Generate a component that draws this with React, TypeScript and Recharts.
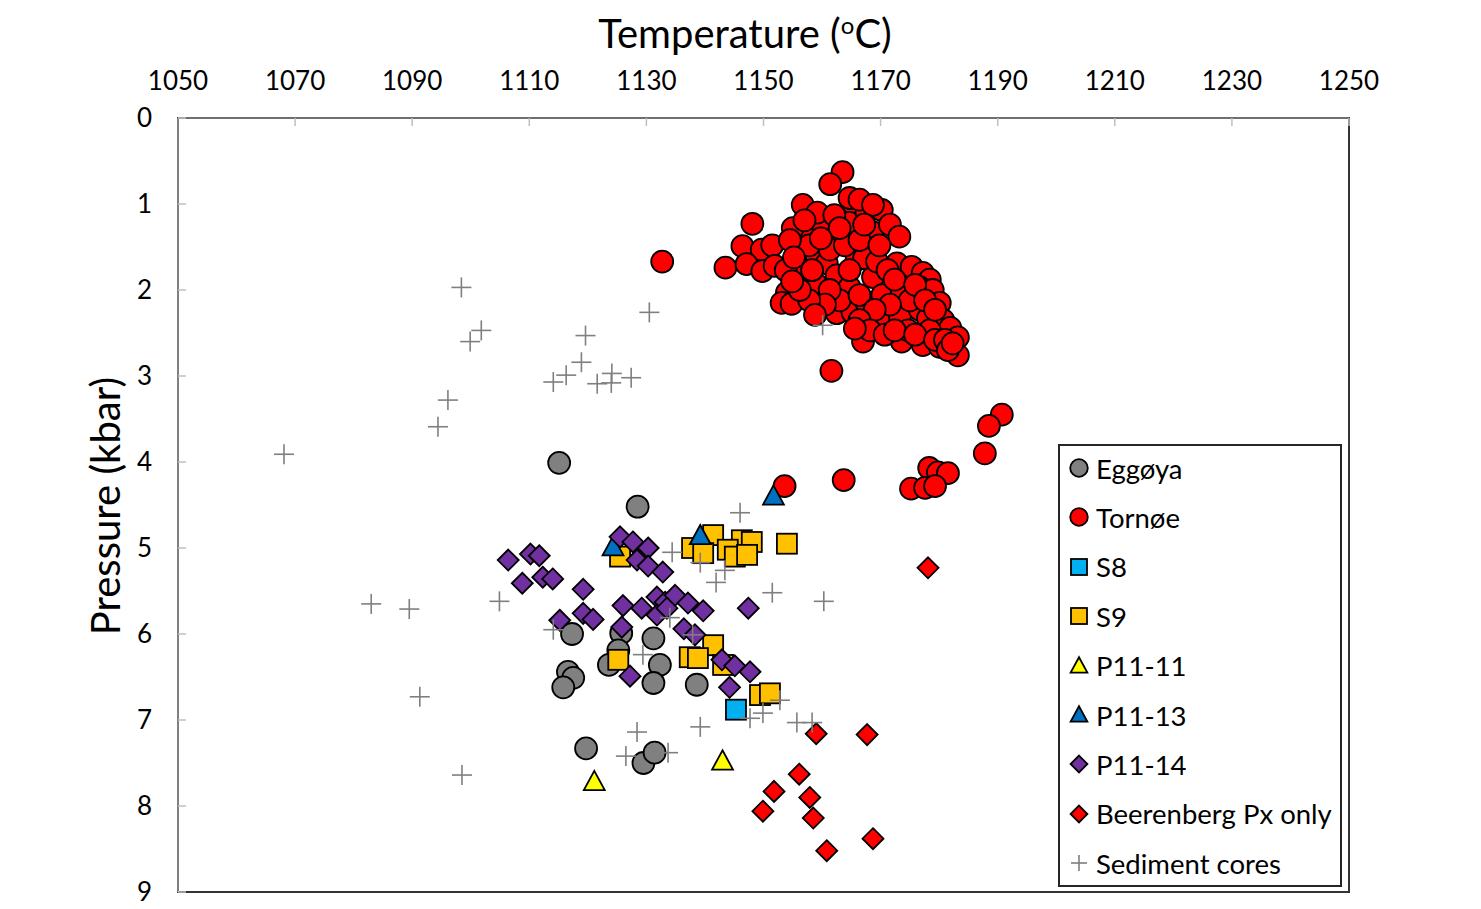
import React from 'react';
import { ScatterChart, Scatter, XAxis, YAxis, ReferenceArea } from 'recharts';

// [temperature °C, pressure kbar]
const eggoya: number[][] = [
  [1115.1, 4.01], [1128.5, 4.52], [1117.3, 6.0], [1125.7, 5.99], [1131.2, 6.05],
  [1125.2, 6.19], [1123.6, 6.36], [1132.3, 6.36], [1116.6, 6.44], [1117.5, 6.51],
  [1115.8, 6.62], [1131.2, 6.57], [1138.6, 6.59], [1119.7, 7.33], [1129.5, 7.5],
  [1131.4, 7.38],
];

const tornoe: number[][] = [
  [1163.5, 0.63], [1161.4, 0.77], [1148.1, 1.23], [1146.4, 1.49], [1149.7, 1.53],
  [1151.5, 1.48], [1143.5, 1.74], [1147.1, 1.7], [1149.8, 1.78], [1151.9, 1.72],
  [1156.7, 1.01], [1157.3, 1.33], [1155.0, 1.28], [1160.1, 1.24], [1159.2, 1.1],
  [1165.2, 0.99], [1164.7, 1.22], [1167.6, 1.1], [1168.7, 1.33], [1162.5, 1.42],
  [1155.7, 1.57], [1159.1, 1.62], [1160.8, 1.69], [1156.2, 1.8], [1162.5, 1.83],
  [1159.1, 1.94], [1154.0, 2.03], [1153.1, 2.15], [1154.8, 2.16], [1165.9, 1.65],
  [1167.6, 1.53], [1168.7, 1.85], [1164.7, 1.97], [1162.5, 2.27], [1165.2, 2.26],
  [1167.6, 2.15], [1164.7, 0.93], [1166.4, 0.95], [1170.2, 1.07], [1168.7, 1.01],
  [1171.6, 1.24], [1173.2, 1.38], [1167.2, 1.63], [1169.4, 1.67], [1172.8, 1.69],
  [1175.3, 1.73], [1177.2, 1.8], [1178.4, 1.88], [1170.3, 2.06], [1173.6, 2.0],
  [1176.7, 1.97], [1178.9, 2.0], [1180.1, 2.15], [1170.7, 2.35], [1167.0, 2.6],
  [1173.3, 2.31], [1176.7, 2.23], [1178.1, 2.33], [1180.7, 2.35], [1181.9, 2.44],
  [1183.2, 2.55], [1173.6, 2.6], [1177.2, 2.64], [1180.1, 2.66], [1183.2, 2.76],
  [1174.7, 2.47], [1178.4, 2.47], [1163.0, 2.12], [1157.8, 1.48], [1161.3, 1.53],
  [1163.9, 1.48], [1166.4, 1.42], [1158.3, 1.77], [1161.3, 2.0], [1164.7, 1.77],
  [1166.4, 2.06], [1160.5, 2.17], [1157.8, 2.12], [1157.0, 1.19], [1162.1, 1.13],
  [1163.0, 1.28], [1167.2, 1.24], [1169.8, 1.48], [1171.2, 1.77], [1172.4, 1.88],
  [1175.0, 2.12], [1175.9, 1.94], [1177.6, 2.12], [1179.3, 2.23], [1171.6, 2.17],
  [1169.0, 2.23], [1166.4, 2.35], [1168.2, 2.47], [1170.7, 2.52], [1172.4, 2.47],
  [1175.9, 2.52], [1179.3, 2.58], [1181.0, 2.58], [1154.5, 1.42], [1153.8, 1.77],
  [1156.2, 2.0], [1158.8, 2.29], [1155.2, 1.62], [1154.9, 1.9], [1159.8, 1.4],
  [1165.6, 2.45], [1181.5, 2.7], [1182.3, 2.62],
  [1132.7, 1.67], [1161.6, 2.94], [1153.6, 4.28], [1163.7, 4.21], [1190.7, 3.45],
  [1188.5, 3.58], [1187.8, 3.9], [1178.3, 4.07], [1179.8, 4.12], [1181.5, 4.13],
  [1175.2, 4.31], [1177.6, 4.3], [1179.3, 4.28],
];

const s8: number[][] = [[1145.3, 6.88]];

const s9: number[][] = [
  [1154.0, 4.95], [1141.4, 4.85], [1137.8, 5.0], [1139.7, 5.06], [1146.3, 4.91],
  [1148.0, 4.93], [1143.9, 5.02], [1145.1, 5.1], [1147.2, 5.08], [1125.5, 5.1],
  [1141.4, 6.13], [1137.4, 6.27], [1138.8, 6.28], [1143.1, 6.36], [1125.2, 6.3],
  [1149.4, 6.71], [1151.1, 6.69],
];

const p1111: number[][] = [[1121.1, 7.72], [1143.0, 7.48]];

const p1113: number[][] = [[1151.7, 4.4], [1139.2, 4.86], [1124.3, 4.99]];

const p1114: number[][] = [
  [1106.4, 5.14], [1110.2, 5.07], [1111.7, 5.09], [1108.8, 5.41], [1112.3, 5.34],
  [1114.0, 5.36], [1119.2, 5.48], [1115.2, 5.84], [1119.2, 5.76], [1120.9, 5.83],
  [1125.5, 4.87], [1127.7, 4.93], [1130.3, 5.0], [1128.4, 5.14], [1130.3, 5.21],
  [1132.8, 5.28], [1126.0, 5.67], [1129.2, 5.7], [1131.8, 5.57], [1133.2, 5.63],
  [1134.9, 5.55], [1137.1, 5.64], [1139.7, 5.73], [1131.8, 5.78], [1133.5, 5.7],
  [1147.4, 5.7], [1125.8, 5.92], [1136.4, 5.94], [1138.3, 6.01], [1142.9, 6.3],
  [1145.1, 6.37], [1147.7, 6.44], [1127.2, 6.49], [1144.2, 6.62],
];

const beerenberg: number[][] = [
  [1159.0, 7.16], [1167.7, 7.17], [1156.1, 7.63], [1151.8, 7.83], [1157.9, 7.9],
  [1149.9, 8.06], [1158.5, 8.14], [1168.7, 8.38], [1160.8, 8.52], [1178.1, 5.23],
];

const sediment: number[][] = [
  [1098.4, 1.97], [1101.8, 2.47], [1099.9, 2.6], [1130.5, 2.26], [1119.6, 2.53],
  [1118.9, 2.84], [1116.3, 2.99], [1114.1, 3.07], [1124.1, 2.97], [1121.6, 3.09],
  [1124.0, 3.08], [1127.4, 3.02], [1096.1, 3.28], [1094.4, 3.59], [1068.1, 3.91],
  [1083.0, 5.65], [1089.5, 5.71], [1104.9, 5.62], [1114.1, 5.95], [1091.3, 6.73],
  [1098.5, 7.64], [1146.0, 4.59], [1134.4, 5.05], [1139.2, 5.17], [1143.4, 5.26],
  [1141.9, 5.4], [1151.5, 5.52], [1160.3, 5.62], [1134.0, 5.81], [1137.9, 6.01],
  [1129.4, 6.24], [1152.8, 6.77], [1149.9, 6.92], [1147.7, 6.98], [1155.7, 7.03],
  [1158.3, 7.03], [1128.4, 7.14], [1139.2, 7.08], [1126.5, 7.42], [1133.7, 7.38],
  [1160.1, 2.41],
];

const xTicks = [1050, 1070, 1090, 1110, 1130, 1150, 1170, 1190, 1210, 1230, 1250];
const yTicks = [0, 1, 2, 3, 4, 5, 6, 7, 8, 9];

const FONT = 'Lato, "Open Sans", sans-serif';

const toPoints = (arr: number[][]) => arr.map(([t, p]) => ({ t, p }));

type Kind = 'circle' | 'square' | 'triangle' | 'diamond' | 'cross';

const Marker = ({ kind, fill, cx, cy, s = 1 }: { kind: Kind; fill: string; cx: number; cy: number; s?: number }) => {
  const sw = 1.8;
  if (kind === 'circle') return <circle cx={cx} cy={cy} r={11 * s} fill={fill} stroke="#000" strokeWidth={sw} />;
  if (kind === 'square') {
    const h = 10 * s;
    return <rect x={cx - h} y={cy - h} width={2 * h} height={2 * h} fill={fill} stroke="#000" strokeWidth={sw} />;
  }
  if (kind === 'triangle') {
    const h = 11 * s;
    return (
      <path d={`M${cx},${cy - h} L${cx + h * 0.95},${cy + h * 0.75} L${cx - h * 0.95},${cy + h * 0.75} Z`}
        fill={fill} stroke="#000" strokeWidth={sw} strokeLinejoin="miter" />
    );
  }
  if (kind === 'diamond') {
    const h = 10.5 * s;
    return (
      <path d={`M${cx},${cy - h} L${cx + h},${cy} L${cx},${cy + h} L${cx - h},${cy} Z`}
        fill={fill} stroke="#000" strokeWidth={sw} />
    );
  }
  const a = 10 * s;
  return (
    <g stroke="#7f7f7f" strokeWidth={1.6}>
      <line x1={cx - a} y1={cy} x2={cx + a} y2={cy} />
      <line x1={cx} y1={cy - a} x2={cx} y2={cy + a} />
    </g>
  );
};

const SERIES: { name: string; data: number[][]; kind: Kind; fill: string }[] = [
  { name: 'Eggøya', data: eggoya, kind: 'circle', fill: '#808080' },
  { name: 'Tornøe', data: tornoe, kind: 'circle', fill: '#FF0000' },
  { name: 'S8', data: s8, kind: 'square', fill: '#00B0F0' },
  { name: 'S9', data: s9, kind: 'square', fill: '#FFC000' },
  { name: 'P11-11', data: p1111, kind: 'triangle', fill: '#FFFF00' },
  { name: 'P11-13', data: p1113, kind: 'triangle', fill: '#0070C0' },
  { name: 'P11-14', data: p1114, kind: 'diamond', fill: '#7030A0' },
  { name: 'Beerenberg Px only', data: beerenberg, kind: 'diamond', fill: '#FF0000' },
  { name: 'Sediment cores', data: sediment, kind: 'cross', fill: '#7f7f7f' },
];

const LegendBox = () => (
  <div
    style={{
      position: 'absolute', left: 1050, top: 436, width: 280, height: 439,
      border: '2px solid #262626', background: '#fff', fontFamily: FONT, fontSize: 27.5,
      color: '#000', boxSizing: 'content-box',
    }}
  >
    {SERIES.map((s, i) => (
      <div key={s.name} style={{ position: 'absolute', left: 0, top: 5 + i * 49.4, height: 34, display: 'flex', alignItems: 'center' }}>
        <svg width={40} height={34} style={{ display: 'block' }}>
          <Marker kind={s.kind} fill={s.fill} cx={19} cy={17} s={0.8} />
        </svg>
        <span style={{ marginLeft: -4, whiteSpace: 'nowrap' }}>{s.name}</span>
      </div>
    ))}
  </div>
);

export default function App() {
  return (
    <div style={{ position: 'relative', width: 1465, height: 901, background: '#fff' }}>
      <ScatterChart
        width={1465}
        height={901}
        margin={{ top: 70, right: 124, bottom: 17, left: 110 }}
        style={{ overflow: 'visible' }}
      >
        <ReferenceArea x1={1050} x2={1250} y1={0} y2={9} fill="none" stroke="#333" strokeWidth={2} ifOverflow="visible" />
        <XAxis
          type="number"
          dataKey="t"
          orientation="top"
          domain={[1050, 1250]}
          ticks={xTicks}
          height={40}
          allowDataOverflow
          stroke="#6f6f6f"
          strokeWidth={2}
          tickSize={-8}
          tickMargin={36}
          tickLine={{ stroke: '#bfbfbf', strokeWidth: 1.5 }}
          tick={{ fill: '#000', fontSize: 26, fontFamily: FONT }}
        />
        <YAxis
          type="number"
          dataKey="p"
          domain={[0, 9]}
          reversed
          ticks={yTicks}
          width={60}
          allowDataOverflow
          stroke="#7f7f7f"
          strokeWidth={2}
          tickSize={-8}
          tickMargin={34}
          tickLine={{ stroke: '#bfbfbf', strokeWidth: 1.5 }}
          tick={{ fill: '#000', fontSize: 26, fontFamily: FONT }}
        />
        {SERIES.map((s) => (
          <Scatter
            key={s.name}
            name={s.name}
            data={toPoints(s.data)}
            isAnimationActive={false}
            shape={(props: any) => <Marker kind={s.kind} fill={s.fill} cx={props.cx} cy={props.cy} />}
          />
        ))}
      </ScatterChart>
      <div
        style={{
          position: 'absolute', left: 737, top: 25, transform: 'translate(-50%, -50%)',
          fontFamily: FONT, fontSize: 40, whiteSpace: 'nowrap', color: '#000',
        }}
      >
        Temperature (<sup style={{ fontSize: 24, verticalAlign: 'super', lineHeight: 0 }}>o</sup>C)
      </div>
      <div
        style={{
          position: 'absolute', left: 97, top: 498, transform: 'translate(-50%, -50%) rotate(-90deg)',
          fontFamily: FONT, fontSize: 40, whiteSpace: 'nowrap', color: '#000',
        }}
      >
        Pressure (kbar)
      </div>
      <LegendBox />
    </div>
  );
}
